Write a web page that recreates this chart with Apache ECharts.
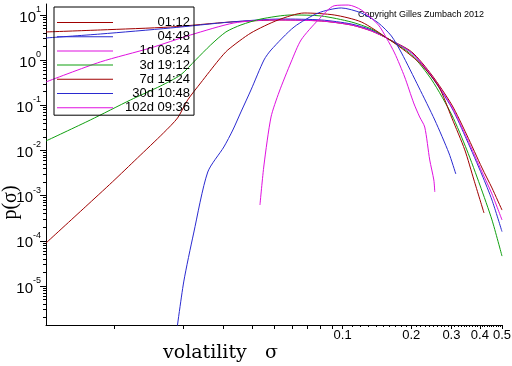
<!DOCTYPE html>
<html><head><meta charset="utf-8">
<script src="https://cdn.jsdelivr.net/npm/echarts@6/dist/echarts.min.js"></script>
<style>html,body{margin:0;padding:0;background:#fff}#c{width:512px;height:366px}</style>
</head><body><div id="c"></div>
<script>
// ---- data ----
const seriesNames = ['01:12', '04:48', '1d 08:24', '3d 19:12', '7d 14:24', '30d 10:48', '102d 09:36'];

const sigma_0112 = [0.005, 0.00865, 0.01758, 0.03236, 0.05373, 0.08054, 0.1091, 0.1337, 0.1588, 0.2009, 0.2460, 0.3013, 0.3505, 0.4087, 0.4519, 0.5];
const p_0112     = [4.21, 4.66, 5.42, 7.00, 7.75, 7.36, 6.01, 4.43, 2.94, 1.52, 0.470, 0.102, 0.0220, 0.00410, 0.00148, 4.8e-4];

const sigma_0448 = [0.005, 0.00865, 0.01758, 0.03236, 0.05373, 0.08054, 0.1091, 0.1337, 0.1588, 0.2009, 0.2460, 0.3013, 0.3505, 0.4087, 0.4519, 0.5];
const p_0448     = [3.10, 3.79, 5.15, 7.00, 8.15, 7.75, 6.32, 4.66, 2.94, 1.44, 0.424, 0.0873, 0.0171, 0.00287, 8.0e-4, 1.6e-4];

const sigma_1d = [0.005, 0.00865, 0.01436, 0.02153, 0.03334, 0.04853, 0.08054, 0.1091, 0.1337, 0.1588, 0.2009, 0.2460, 0.3013, 0.3505, 0.4087, 0.4519, 0.5];
const p_1d     = [0.329, 0.911, 1.86, 3.61, 6.65, 7.75, 7.36, 6.01, 4.43, 2.94, 1.44, 0.447, 0.0918, 0.0189, 0.00334, 0.00109, 2.9e-4];

const sigma_3d = [0.005, 0.00782, 0.01172, 0.01589, 0.01946, 0.02266, 0.02638, 0.03076, 0.03581, 0.04385, 0.05943, 0.08054, 0.1091, 0.1337, 0.1588, 0.2009, 0.2460, 0.3013, 0.3505, 0.4000, 0.4519, 0.5];
const p_3d     = [0.01625, 0.0473, 0.131, 0.268, 0.470, 1.01, 2.17, 4.21, 6.01, 8.15, 10.0, 9.50, 7.00, 4.90, 2.94, 1.30, 0.364, 0.0611, 0.0103, 0.00172, 2.9e-4, 4.6e-5];

const sigma_7d = [0.005, 0.00743, 0.00977, 0.01259, 0.01637, 0.01888, 0.0209, 0.02384, 0.02862, 0.03136, 0.03963, 0.05212, 0.06776, 0.09183, 0.1208, 0.1588, 0.1905, 0.2223, 0.2644, 0.3013, 0.3434, 0.3767, 0.4169];
const p_7d     = [8.95e-5, 5.61e-4, 0.00201, 0.00683, 0.0244, 0.0525, 0.131, 0.313, 1.01, 1.68, 4.00, 7.75, 11.07, 10.0, 7.00, 2.94, 1.52, 0.781, 0.255, 0.0525, 0.0103, 0.00222, 4.14e-4];

const sigma_30d = [0.01849, 0.02009, 0.02222, 0.02561, 0.03013, 0.03299, 0.03581, 0.03963, 0.04519, 0.04853, 0.06124, 0.07816, 0.09863, 0.1208, 0.1435, 0.1636, 0.1813, 0.2155, 0.2536, 0.2924, 0.3136];
const p_30d     = [6.4e-7, 1.23e-5, 1.49e-4, 0.00334, 0.01197, 0.0284, 0.0713, 0.219, 1.01, 1.68, 5.42, 11.07, 14.3, 11.07, 6.65, 3.43, 1.44, 0.255, 0.0473, 0.00881, 0.00302];

const sigma_102d = [0.04339, 0.04519, 0.04853, 0.05265, 0.05943, 0.06573, 0.07816, 0.09183, 0.1059, 0.1208, 0.1435, 0.1556, 0.1690, 0.1871, 0.2049, 0.2177, 0.2291, 0.2410, 0.2512, 0.2536];
const p_102d     = [6.22e-4, 0.00478, 0.0552, 0.197, 0.911, 2.80, 7.75, 16.0, 16.6, 12.9, 6.01, 3.10, 1.44, 0.424, 0.113, 0.0552, 0.0331, 0.00616, 0.00222, 0.00121];

const xMajorTickValues = [0.01, 0.02, 0.03, 0.04, 0.05, 0.06, 0.07, 0.08, 0.09, 0.1, 0.2, 0.3, 0.4, 0.5];
const xLabelValues = [0.1, 0.2, 0.3, 0.4, 0.5];
const xLabels = ['0.1', '0.2', '0.3', '0.4', '0.5'];
const yLabelValues = [1e-5, 1e-4, 1e-3, 1e-2, 1e-1, 1, 10];
const yExponents = ['-5', '-4', '-3', '-2', '-1', '0', '1'];

// ---- build ----
const X_MIN = 0.005, X_MAX = 0.5, Y_MIN = 1.371e-6, Y_MAX = 17.5;
const xMinorTicks = [];
for (let k = 11; k < 50; k++) if (k % 10 !== 0) xMinorTicks.push(k / 100);
const yMinorTicks = [];
for (let e = -6; e <= 1; e++) for (let m = 2; m <= 9; m++) {
  const v = m * Math.pow(10, e);
  if (v > Y_MIN && v < Y_MAX) yMinorTicks.push(v);
}

const sigmas = [sigma_0112, sigma_0448, sigma_1d, sigma_3d, sigma_7d, sigma_30d, sigma_102d];
const ps = [p_0112, p_0448, p_1d, p_3d, p_7d, p_30d, p_102d];
const colors = ['#a00000', '#2a2ad0', '#e010e0', '#10a010', '#a00000', '#2a2ad0', '#e010e0'];

const FONT = '"Liberation Sans", Arial, sans-serif';
const near = (a, b) => Math.abs(a - b) <= Math.abs(b) * 1e-6;

const series = seriesNames.map((name, i) => ({
  name, type: 'line', xAxisIndex: 0, yAxisIndex: 0,
  data: sigmas[i].map((s, j) => [s, ps[i][j]]),
  symbol: 'none', smooth: 0.25, clip: true,
  lineStyle: { width: 1, color: colors[i] }, itemStyle: { color: colors[i] },
  emphasis: { disabled: true }
}));

const chart = echarts.init(document.getElementById('c'), null, { renderer: 'canvas' });
chart.setOption({
  animation: false,
  backgroundColor: '#fff',
  grid: { left: 46, right: 10, top: 4, bottom: 41, containLabel: false, outerBoundsMode: 'none' },
  xAxis: [{
    type: 'log', logBase: 10, min: X_MIN, max: X_MAX, position: 'bottom',
    axisLine: { show: true, lineStyle: { color: '#000', width: 1 } },
    axisTick: { show: true, length: 4, customValues: xMajorTickValues, lineStyle: { color: '#000' } },
    axisLabel: { show: true, customValues: xLabelValues, margin: 4, color: '#000', fontSize: 13, fontFamily: FONT,
      formatter: v => { const i = xLabelValues.findIndex(x => near(v, x)); return i >= 0 ? xLabels[i] : ''; } },
    splitLine: { show: false }, minorTick: { show: false }
  }, {
    type: 'log', logBase: 10, min: X_MIN, max: X_MAX, position: 'bottom', offset: 0,
    axisLine: { show: false },
    axisTick: { show: true, length: 2, customValues: xMinorTicks, lineStyle: { color: '#000' } },
    axisLabel: { show: false }, splitLine: { show: false }
  }],
  yAxis: [{
    type: 'log', logBase: 10, min: Y_MIN, max: Y_MAX, position: 'left',
    axisLine: { show: true, lineStyle: { color: '#000', width: 1 } },
    axisTick: { show: true, length: 6, customValues: yLabelValues, lineStyle: { color: '#000' } },
    axisLabel: { show: true, customValues: yLabelValues, margin: 5, color: '#000',
      formatter: v => { const i = yLabelValues.findIndex(x => near(v, x)); return i >= 0 ? '{b|10}{s|' + yExponents[i] + '}' : ''; },
      rich: {
        b: { fontSize: 15, fontFamily: FONT, color: '#000', lineHeight: 20, verticalAlign: 'bottom' },
        s: { fontSize: 9, fontFamily: FONT, color: '#000', lineHeight: 10, verticalAlign: 'top' }
      } },
    splitLine: { show: false }
  }, {
    type: 'log', logBase: 10, min: Y_MIN, max: Y_MAX, position: 'left', offset: 0,
    name: 'p(σ)', nameLocation: 'middle', nameRotate: 90, nameGap: 25,
    nameTextStyle: { fontSize: 20, fontFamily: '"Liberation Serif", serif', color: '#000', padding: [0, 76, 0, 0] },
    axisLine: { show: false },
    axisTick: { show: true, length: 3, customValues: yMinorTicks, lineStyle: { color: '#000' } },
    axisLabel: { show: false }, splitLine: { show: false }
  }],
  legend: {
    show: true, orient: 'vertical', left: 54, top: 7,
    padding: [9, 4, 1, 3], borderColor: '#000', borderWidth: 1, backgroundColor: 'transparent',
    itemWidth: 56, itemHeight: 14, itemGap: 1.2, selectedMode: false,
    icon: 'path://M0,0H56V1H0Z',
    data: seriesNames,
    formatter: name => '{a|' + name + '}',
    textStyle: { color: '#000', fontSize: 13, fontFamily: FONT,
      rich: { a: { width: 72, align: 'right', fontSize: 13, fontFamily: FONT, color: '#000' } } }
  },
  graphic: [
    { type: 'text', x: 358, y: 10, silent: true,
      style: { text: 'Copyright Gilles Zumbach 2012', font: '9px "Liberation Sans", Arial, sans-serif', fill: '#000' } },
    { type: 'text', x: 163, y: 353, silent: true,
      style: { text: 'volatility', font: '19px "DejaVu Serif", serif', fill: '#000', verticalAlign: 'middle' } },
    { type: 'text', x: 265, y: 353, silent: true,
      style: { text: 'σ', font: '19px "DejaVu Serif", serif', fill: '#000', verticalAlign: 'middle' } }
  ],
  series
});
</script>
</body></html>
